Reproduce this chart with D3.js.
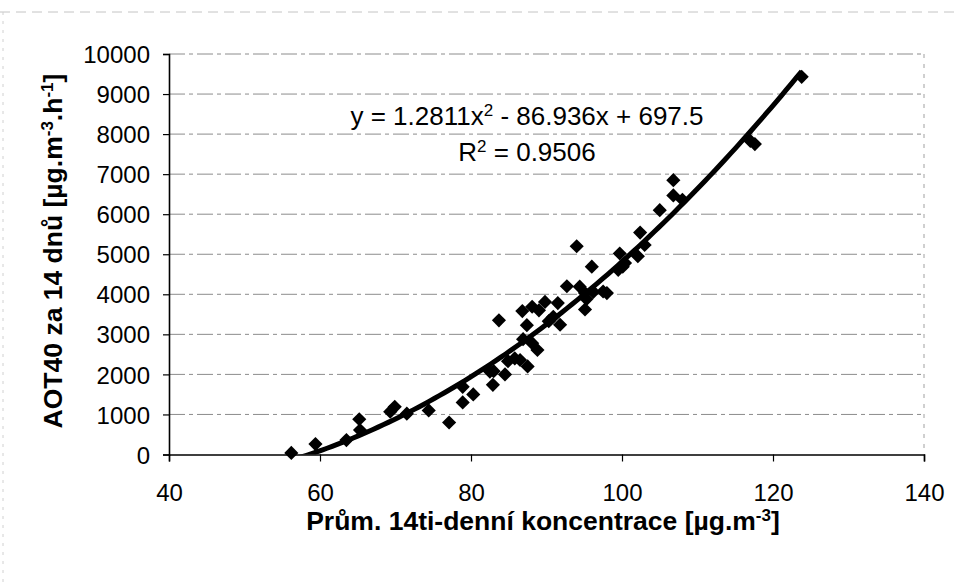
<!DOCTYPE html>
<html>
<head>
<meta charset="utf-8">
<script src="https://cdn.jsdelivr.net/npm/d3@7"></script>
<style>
    body { margin: 0; background: #fff; }
    svg { display: block; font-family: "Liberation Sans", Arial, sans-serif; }
    .tick-label { font-size: 24px; fill: #000; }
    .axis-title { font-size: 26.5px; font-weight: bold; fill: #000; }
    .trend-label { font-size: 26px; fill: #000; }
</style>
</head>
<body>
<div id="chart"></div>
<script>

// 14-day mean concentration [ug/m3]
var concentration = [
    56.2, 59.4, 63.5, 65.2, 65.3, 69.3, 69.9, 71.5, 74.4, 77.1,
    78.9, 78.9, 80.3, 82.5, 82.9, 83.0, 83.7, 84.5, 84.9, 85.8,
    86.5, 87.5, 88.8, 86.9, 88.1, 87.4, 86.8, 88.1, 89.0, 89.8,
    91.5, 92.7, 90.9, 91.8, 90.3, 94.0, 96.0, 94.4, 95.1, 95.3,
    95.1, 96.2, 97.5, 98.0, 99.7, 100.1, 99.5, 100.4, 102.1, 102.4,
    103.0, 105.0, 106.8, 106.8, 108.0, 117.0, 117.6, 123.8
];

// AOT40 over 14 days [ug/m3.h]
var aot40 = [
    40, 260, 360, 880, 610, 1070, 1190, 1020, 1100, 800,
    1690, 1300, 1500, 2070, 1740, 2080, 3350, 2000, 2330, 2400,
    2360, 2200, 2610, 2880, 2780, 3230, 3580, 3690, 3600, 3810,
    3780, 4200, 3440, 3240, 3330, 5200, 4690, 4190, 4030, 3880,
    3620, 4060, 4070, 4030, 5020, 4690, 4610, 4780, 4950, 5540,
    5230, 6100, 6850, 6470, 6360, 7830, 7750, 9430
];

var xTicks = [40, 60, 80, 100, 120, 140];
var yTicks = [0, 1000, 2000, 3000, 4000, 5000, 6000, 7000, 8000, 9000, 10000];

// polynomial trendline coefficients (y = a x^2 + b x + c)
var trendCoef = [1.2811, -86.936, 697.5];
var trendR2 = 0.9506;

var width = 954, height = 585;
var plot = {left: 169, right: 924, top: 54, bottom: 454.5};

var svg = d3.select("#chart").append("svg")
    .attr("width", width)
    .attr("height", height);

var x = d3.scaleLinear().domain([40, 140]).range([plot.left, plot.right]);
var y = d3.scaleLinear().domain([0, 10000]).range([plot.bottom, plot.top]);

// faint outer frame of the chart area
svg.append("line")
    .attr("x1", 0).attr("x2", width).attr("y1", 12).attr("y2", 12)
    .attr("stroke", "#c4c4c4").attr("stroke-dasharray", "10,6");
svg.append("line")
    .attr("x1", 3).attr("x2", 3).attr("y1", 12).attr("y2", height)
    .attr("stroke", "#d0d0d0").attr("stroke-dasharray", "3,6");

// horizontal gridlines
svg.append("g")
    .selectAll("line")
    .data(yTicks.filter(function(d){ return d > 0; }))
    .enter()
    .append("line")
    .attr("x1", plot.left)
    .attr("x2", plot.right)
    .attr("y1", function(d){ return y(d); })
    .attr("y2", function(d){ return y(d); })
    .attr("stroke", "#8c8c8c")
    .attr("stroke-width", 1)
    .attr("stroke-dasharray", "16,4,4,4");

// right border of the plot area
svg.append("line")
    .attr("x1", plot.right).attr("x2", plot.right)
    .attr("y1", plot.top).attr("y2", plot.bottom)
    .attr("stroke", "#a0a0a0")
    .attr("stroke-dasharray", "4,6");

// axes
var xAxis = d3.axisBottom(x).tickValues(xTicks).tickSize(7).tickPadding(22)
    .tickFormat(d3.format("d"));
var yAxis = d3.axisLeft(y).tickValues(yTicks).tickSize(6).tickPadding(13)
    .tickFormat(d3.format("d"));

var gx = svg.append("g")
    .attr("transform", "translate(0," + plot.bottom + ")")
    .call(xAxis);
var gy = svg.append("g")
    .attr("transform", "translate(" + plot.left + ",0)")
    .call(yAxis);

[gx, gy].forEach(function(g){
    g.attr("font-size", null).attr("font-family", null);
    g.select(".domain").attr("stroke", "#000").attr("stroke-width", 1.6);
    g.selectAll(".tick line").attr("stroke", "#000").attr("stroke-width", 1.2);
    g.selectAll(".tick text").attr("class", "tick-label");
});
gy.selectAll(".tick text").attr("dy", "0.36em");

// trendline, clipped to the plot area
svg.append("clipPath")
    .attr("id", "plot-clip")
    .append("rect")
    .attr("x", plot.left)
    .attr("y", plot.top - 20)
    .attr("width", plot.right - plot.left)
    .attr("height", plot.bottom - plot.top + 20);

var xMin = d3.min(concentration), xMax = d3.max(concentration);
var trendPts = d3.range(0, 101).map(function(i){
    var cx = xMin + (xMax - xMin) * i / 100;
    return [cx, trendCoef[0] * cx * cx + trendCoef[1] * cx + trendCoef[2]];
});

var line = d3.line()
    .x(function(d){ return x(d[0]); })
    .y(function(d){ return y(Math.max(d[1], -300)); });

// diamond markers
var diamond = d3.symbol().type(d3.symbolSquare).size(100);
svg.append("g")
    .selectAll("path")
    .data(concentration)
    .enter()
    .append("path")
    .attr("d", diamond)
    .attr("transform", function(d, i){
        return "translate(" + x(d) + "," + y(aot40[i]) + ") rotate(45)";
    })
    .attr("fill", "#000");

svg.append("path")
    .datum(trendPts)
    .attr("clip-path", "url(#plot-clip)")
    .attr("d", line)
    .attr("fill", "none")
    .attr("stroke", "#000")
    .attr("stroke-width", 5)
    .attr("stroke-linejoin", "round");

// trendline equation
var eq = svg.append("text")
    .attr("class", "trend-label")
    .attr("x", 527)
    .attr("y", 125)
    .attr("text-anchor", "middle");
eq.append("tspan").text("y = " + trendCoef[0] + "x");
eq.append("tspan").attr("baseline-shift", "super").attr("font-size", "17px").text("2");
eq.append("tspan").text(" - " + Math.abs(trendCoef[1]) + "x + " + trendCoef[2]);

var r2 = svg.append("text")
    .attr("class", "trend-label")
    .attr("x", 527)
    .attr("y", 161)
    .attr("text-anchor", "middle");
r2.append("tspan").text("R");
r2.append("tspan").attr("baseline-shift", "super").attr("font-size", "17px").text("2");
r2.append("tspan").text(" = " + trendR2);

// axis titles
var xt = svg.append("text")
    .attr("class", "axis-title")
    .attr("x", 543)
    .attr("y", 530)
    .attr("text-anchor", "middle");
xt.append("tspan").text("Prům. 14ti-denní koncentrace [µg.m");
xt.append("tspan").attr("baseline-shift", "super").attr("font-size", "17px").text("-3");
xt.append("tspan").text("]");

var yt = svg.append("text")
    .attr("class", "axis-title")
    .attr("transform", "translate(62,251) rotate(-90)")
    .attr("text-anchor", "middle");
yt.append("tspan").text("AOT40 za 14 dnů [µg.m");
yt.append("tspan").attr("baseline-shift", "super").attr("font-size", "17px").text("-3");
yt.append("tspan").text(".h");
yt.append("tspan").attr("baseline-shift", "super").attr("font-size", "17px").text("-1");
yt.append("tspan").text("]");

</script>
</body>
</html>
